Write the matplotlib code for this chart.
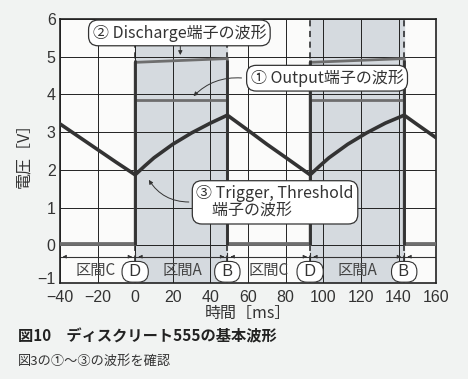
import matplotlib.pyplot as plt
import matplotlib.transforms as mtransforms

plt.rcParams['font.family'] = ['Noto Sans CJK JP', 'DejaVu Sans']

# transition times [ms]
t_on = [0, 93]
t_off = [49, 143]

# discharge / output waveforms
dis_t = [-40, 0, 0, 49, 49, 93, 93, 143, 143, 160]
dis_v = [0.05, 0.05, 4.85, 4.95, 0.05, 0.05, 4.85, 4.95, 0.05, 0.05]
out_t = [-40, 0, 0, 49, 49, 93, 93, 143, 143, 160]
out_v = [0.03, 0.03, 3.85, 3.85, 0.03, 0.03, 3.85, 3.85, 0.03, 0.03]

# trigger / threshold waveform
trg_t = [-40, -30, -20, -10, 0, 5, 10, 20, 30, 40, 49,
         60, 70, 80, 93, 98, 103, 113, 123, 133, 143, 150, 160]
trg_v = [3.22, 2.88, 2.54, 2.2, 1.87, 2.1, 2.32, 2.68, 2.98, 3.24, 3.45,
         3.05, 2.68, 2.33, 1.87, 2.1, 2.32, 2.68, 2.98, 3.24, 3.45, 3.2, 2.85]

xticks = [-40, -20, 0, 20, 40, 60, 80, 100, 120, 140, 160]
yticks = [-1, 0, 1, 2, 3, 4, 5, 6]

# interval labels along the bottom
seg_x = [-21, 25, 71, 118]
seg_txt = ['区間C', '区間A', '区間C', '区間A']
mark_x = [0, 49, 93, 143]
mark_txt = ['D', 'B', 'D', 'B']

fig = plt.figure(figsize=(4.68, 3.79), dpi=100, facecolor='#f1f3f2')
ax = fig.add_axes([0.128, 0.253, 0.804, 0.697])
ax.set_facecolor('#fbfbfa')
ax.set_xlim(-40, 160)
ax.set_ylim(-1, 6)

for a, b in zip(t_on, t_off):
    ax.axvspan(a, b, color='#d5dadf', zorder=0)

ax.set_xticks(xticks)
ax.set_yticks(yticks)
ax.set_xticklabels([f'{v:d}'.replace('-', '\u2212') for v in xticks],
                   family='Liberation Sans', fontsize=11.5, color='#333333')
ax.set_yticklabels([f'{v:d}'.replace('-', '\u2212') for v in yticks],
                   family='Liberation Sans', fontsize=11.5, color='#333333')
ax.tick_params(axis='x', length=0, pad=5)
ax.tick_params(axis='y', length=0, pad=3)
# lift the "-1" label a bit so it clears "-40"
lbl = ax.get_yticklabels()[0]
lbl.set_transform(lbl.get_transform() +
                  mtransforms.ScaledTranslation(0, 4 / 72, fig.dpi_scale_trans))
ax.grid(color='#222222', linewidth=0.7)
for s in ax.spines.values():
    s.set_linewidth(1.2)
    s.set_color('#222222')

for x in mark_x:
    ax.axvline(x, color='#222222', linestyle=(0, (4, 3)), linewidth=1.1, zorder=2)

ax.plot(dis_t, dis_v, color='#6e6e6e', linewidth=2.0, zorder=3)
ax.plot(out_t, out_v, color='#6e6e6e', linewidth=2.0, zorder=3)
ax.vlines(t_on + t_off, 0, 4.9, color='#333333', linewidth=2.0, zorder=3)
ax.plot(trg_t, trg_v, color='#333333', linewidth=2.6, zorder=4)

# interval arrows line
ax.axhline(-0.3, color='#333333', linewidth=0.8, zorder=2)
arrow = dict(arrowstyle='-|>', color='#333333', lw=0.6, mutation_scale=5)
for x in mark_x:
    ax.annotate('', xy=(x - 0.3, -0.3), xytext=(x - 4, -0.3), arrowprops=arrow, zorder=5)
    ax.annotate('', xy=(x + 0.3, -0.3), xytext=(x + 4, -0.3), arrowprops=arrow, zorder=5)
    ax.plot([x, x], [-0.45, -0.2], color='#333333', linewidth=0.8, zorder=5)
ax.annotate('', xy=(-40, -0.3), xytext=(-36, -0.3), arrowprops=arrow, zorder=5)

for x, t in zip(seg_x, seg_txt):
    ax.text(x, -0.66, t, ha='center', va='center', fontsize=11, color='#444444')
for x, t in zip(mark_x, mark_txt):
    ax.text(x, -0.7, ' ' + t + ' ', ha='center', va='center', fontsize=11.5,
            color='#333333', family='Liberation Sans', zorder=6,
            bbox=dict(boxstyle='round,pad=0.18,rounding_size=0.62',
                      fc='white', ec='#333333', lw=0.8))

box = dict(boxstyle='round,pad=0.25,rounding_size=0.6', fc='white', ec='#333333', lw=0.9)

# (2) Discharge
ax.text(23.5, 5.63, '② Discharge端子の波形', ha='center', va='center',
        fontsize=11.5, color='#333333', bbox=box, zorder=7)
ax.annotate('', xy=(24, 4.97), xytext=(24, 5.35),
            arrowprops=dict(arrowstyle='-|>', color='#333333', lw=0.7,
                            mutation_scale=6), zorder=6)

# (1) Output
ax.text(102, 4.43, '① Output端子の波形', ha='center', va='center',
        fontsize=11.5, color='#333333', bbox=box, zorder=7)
ax.annotate('', xy=(30, 3.9), xytext=(58, 4.43),
            arrowprops=dict(arrowstyle='-|>', color='#333333', lw=0.7,
                            mutation_scale=6,
                            connectionstyle='arc3,rad=0.25'), zorder=6)

# (3) Trigger, Threshold
ax.text(32.5, 1.14, '③ Trigger, Threshold\n　端子の波形', ha='left', va='center',
        fontsize=11.5, color='#333333', linespacing=1.1, bbox=box, zorder=7)
ax.annotate('', xy=(6.5, 1.8), xytext=(30, 1.15),
            arrowprops=dict(arrowstyle='-|>', color='#333333', lw=0.7,
                            mutation_scale=6,
                            connectionstyle='arc3,rad=-0.3'), zorder=6)

ax.set_xlabel('時間［ms］', fontsize=11.5, color='#333333', labelpad=0)
ax.set_ylabel('電圧［V］', fontsize=11.5, color='#333333', labelpad=4)

fig.text(0.038, 0.113, '図10　ディスクリート555の基本波形', fontsize=11,
         fontweight='bold', color='#222222', va='center')
fig.text(0.038, 0.047, '図3の①～③の波形を確認', fontsize=9.5, color='#333333', va='center')

fig.savefig('out.png', dpi=100, facecolor=fig.get_facecolor())
